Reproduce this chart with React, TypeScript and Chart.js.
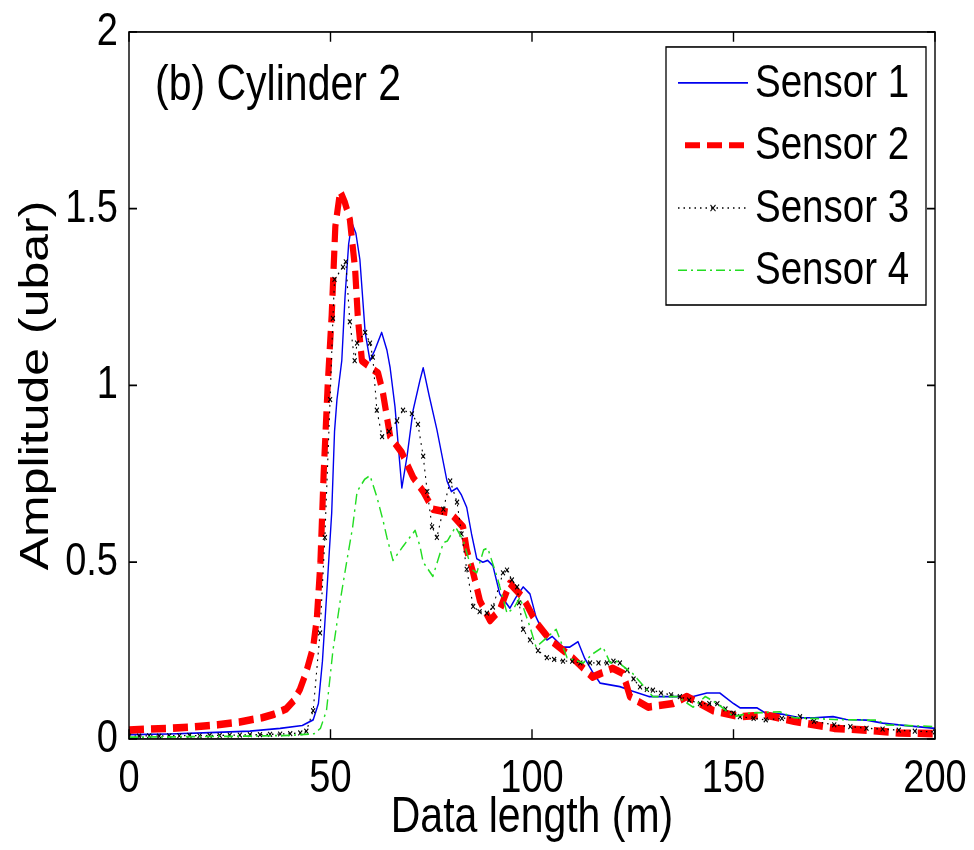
import React, { useEffect, useRef } from "react";
import { Chart, registerables } from "chart.js";

Chart.register(...registerables);

// ---------- data ----------
const xTickValues = [0, 50, 100, 150, 200];
const yTickValues = [0, 0.5, 1, 1.5, 2];
const seriesNames = ["Sensor 1", "Sensor 2", "Sensor 3", "Sensor 4"];
const panelTitle = "(b) Cylinder 2";
const xAxisTitle = "Data length (m)";
const yAxisTitle = "Amplitude (ubar)";

const sensor1: [number, number][] = [
  [0, 0.012], [10, 0.014], [20, 0.018], [30, 0.022], [37.5, 0.03], [43, 0.038], [45.7, 0.054],
  [47, 0.1], [48, 0.22], [49, 0.4], [50.3, 0.64], [51, 0.87], [51.6, 0.96], [52.8, 1.07],
  [53.6, 1.25], [54.5, 1.4], [55.3, 1.46], [56.3, 1.43], [57.3, 1.355], [58.6, 1.15], [59.8, 1.07],
  [61, 1.1], [62.7, 1.15], [64, 1.1], [64.8, 1.05], [66, 0.94], [67.7, 0.71], [69, 0.8],
  [70.5, 0.93], [72.2, 1.015], [73, 1.05], [74.5, 0.97], [76.4, 0.875], [78.9, 0.73], [80, 0.7],
  [81.4, 0.71], [82.5, 0.69], [83.8, 0.655], [85, 0.58], [86.3, 0.51], [87.8, 0.5], [89, 0.505],
  [90.3, 0.49], [92, 0.41], [94.5, 0.37], [96, 0.4], [97.8, 0.43], [99.5, 0.41], [101, 0.345],
  [103.7, 0.28], [105, 0.29], [107.7, 0.26], [109.4, 0.26], [111.4, 0.275], [113, 0.23],
  [115, 0.19], [116.9, 0.158], [121.8, 0.148], [125, 0.135], [129, 0.12], [140, 0.12],
  [143.4, 0.13], [146.6, 0.13], [150, 0.1], [151.6, 0.088], [155.8, 0.088], [158, 0.073],
  [162, 0.07], [166.5, 0.06], [170, 0.06], [174.7, 0.063], [178, 0.055], [183, 0.053],
  [187, 0.045], [191, 0.04], [195.5, 0.035], [200, 0.03],
];

const sensor2: [number, number][] = [
  [0, 0.025], [5, 0.028], [10, 0.03], [16, 0.034], [22, 0.04], [27.5, 0.048], [33, 0.06],
  [36, 0.07], [39, 0.085], [41, 0.11], [42.4, 0.14], [44, 0.19], [45.7, 0.26], [46.6, 0.34],
  [47.5, 0.5], [48.3, 0.75], [49.3, 1.0], [50.3, 1.2], [51.2, 1.45], [52.4, 1.55], [53.5, 1.52],
  [54.8, 1.47], [56.1, 1.33], [56.8, 1.19], [57.8, 1.07], [60, 1.05], [61.8, 1.035], [63, 0.98],
  [64.8, 0.855], [67.7, 0.81], [70.5, 0.74], [73, 0.7], [75.4, 0.65], [79.7, 0.64], [82.9, 0.6],
  [83.8, 0.535], [85.4, 0.47], [87.1, 0.39], [89.6, 0.335], [92, 0.365], [94.5, 0.44],
  [97.8, 0.4], [101, 0.33], [104.5, 0.28], [110, 0.23], [115, 0.175], [120, 0.2], [122.6, 0.185],
  [124.3, 0.12], [128.8, 0.09], [135, 0.1], [138.4, 0.12], [145, 0.08], [151.6, 0.063],
  [158, 0.068], [165, 0.05], [175, 0.03], [183, 0.025], [191, 0.017], [200, 0.015],
];

const sensor3: [number, number][] = [
  [0, 0.008], [2.5, 0.008], [5, 0.009], [7.5, 0.008], [10, 0.009], [12.5, 0.009], [15, 0.01],
  [17.5, 0.009], [20, 0.01], [22.5, 0.01], [25, 0.011], [27.5, 0.011], [30, 0.012], [32.5, 0.012],
  [35, 0.013], [37.5, 0.014], [40, 0.015], [42.5, 0.017], [44, 0.022], [45.7, 0.08], [47.4, 0.3],
  [48.6, 0.57], [49.9, 0.96], [50.6, 1.19], [51, 1.3], [53.1, 1.335], [53.8, 1.35], [54.8, 1.18],
  [56, 1.07], [56.6, 1.12], [58.6, 1.15], [59.8, 1.12], [60.5, 1.08], [61.5, 0.93], [62.8, 0.855],
  [64.5, 0.87], [66.5, 0.9], [68, 0.93], [70.2, 0.92], [71.7, 0.89], [73, 0.8], [74, 0.7],
  [75.2, 0.6], [76.4, 0.57], [78, 0.65], [79.7, 0.73], [81.4, 0.67], [82.5, 0.58], [83.8, 0.48],
  [85.4, 0.375], [87, 0.36], [88.8, 0.356], [90.3, 0.373], [92.8, 0.47], [93.8, 0.478],
  [95, 0.45], [96.3, 0.43], [96.8, 0.385], [97.8, 0.31], [99.5, 0.28], [101.5, 0.25],
  [103.7, 0.23], [105.5, 0.225], [107.7, 0.22], [110, 0.22], [112, 0.215], [114.4, 0.215],
  [116.5, 0.215], [118.6, 0.215], [120.2, 0.22], [121.8, 0.215], [123.6, 0.195], [125.2, 0.17],
  [126.8, 0.147], [128.5, 0.14], [130, 0.138], [132, 0.13], [134.5, 0.125], [136.7, 0.12],
  [139, 0.11], [141.7, 0.1], [144, 0.1], [146, 0.1], [148, 0.085], [150, 0.073], [151.6, 0.063],
  [155, 0.058], [158, 0.054], [162, 0.058], [166.5, 0.063], [170, 0.05], [175, 0.04],
  [179, 0.035], [183, 0.03], [187, 0.028], [191, 0.025], [195, 0.022], [200, 0.02],
];

const sensor4: [number, number][] = [
  [0, 0.005], [10, 0.006], [20, 0.007], [30, 0.008], [40, 0.01], [46, 0.015], [47.5, 0.03],
  [49, 0.08], [50.6, 0.25], [52.4, 0.39], [54, 0.5], [55.5, 0.6], [56.6, 0.7], [58.5, 0.735],
  [59.8, 0.745], [61.5, 0.685], [63, 0.62], [64, 0.57], [65.5, 0.505], [68, 0.545], [71, 0.59],
  [72.2, 0.545], [73, 0.5], [75.4, 0.46], [78, 0.555], [79, 0.56], [81, 0.6], [83, 0.56],
  [85, 0.48], [86.3, 0.47], [88, 0.535], [89, 0.54], [91.3, 0.46], [93.8, 0.356], [95.5, 0.37],
  [97, 0.4], [99.5, 0.317], [101, 0.26], [103, 0.28], [106, 0.31], [108.7, 0.23], [112.7, 0.215],
  [115, 0.24], [117.6, 0.26], [119.4, 0.215], [121, 0.22], [125, 0.185], [130, 0.12], [136, 0.12],
  [140, 0.09], [143, 0.12], [146, 0.1], [150, 0.063], [154, 0.073], [161.5, 0.077], [165, 0.06],
  [170, 0.058], [175, 0.055], [180, 0.054], [185.6, 0.053], [188, 0.04], [195, 0.037],
  [200, 0.035],
];

// ---------- styles / layout ----------
const FONT = '"Liberation Sans", Arial, Helvetica, sans-serif';
const W = 974;
const H = 850;
const SY = 1.22; // the reference is stretched vertically; draw in a squeezed space
const LH = Math.round(H / SY); // logical chart height

const styles = [
  { color: "#0000ee", width: 1.4, dash: [] as number[] },
  { color: "#ff0000", width: 6.2, dash: [15, 7] },
  { color: "#000000", width: 1.1, dash: [1.5, 4] },
  { color: "#22dd22", width: 1.4, dash: [9, 4, 2, 4] },
];

const toXY = (arr: [number, number][]) => arr.map(([x, y]) => ({ x, y }));
const fmt = (v: number | string) => String(Number(v));

function drawCross(ctx: CanvasRenderingContext2D, x: number, y: number, r: number) {
  ctx.beginPath();
  ctx.moveTo(x - r, y - r);
  ctx.lineTo(x + r, y + r);
  ctx.moveTo(x - r, y + r);
  ctx.lineTo(x + r, y - r);
  ctx.stroke();
}

const stretchPlugin = {
  id: "stretch",
  beforeDraw(chart: any) {
    chart.ctx.save();
    chart.ctx.setTransform(1, 0, 0, SY, 0, 0);
  },
  afterDraw(chart: any) {
    chart.ctx.restore();
  },
};

const framePlugin = {
  id: "matlabFrame",
  afterDraw(chart: any) {
    const { ctx, chartArea: a, scales } = chart;
    ctx.save();
    ctx.strokeStyle = "#000";
    ctx.lineWidth = 1.4;
    ctx.setLineDash([]);
    ctx.strokeRect(a.left, a.top, a.right - a.left, a.bottom - a.top);
    const tl = 8;
    ctx.beginPath();
    for (const v of xTickValues) {
      const px = scales.x.getPixelForValue(v);
      ctx.moveTo(px, a.bottom);
      ctx.lineTo(px, a.bottom - tl);
      ctx.moveTo(px, a.top);
      ctx.lineTo(px, a.top + tl);
    }
    for (const v of yTickValues) {
      const py = scales.y.getPixelForValue(v);
      ctx.moveTo(a.left, py);
      ctx.lineTo(a.left + tl, py);
      ctx.moveTo(a.right, py);
      ctx.lineTo(a.right - tl, py);
    }
    ctx.stroke();

    // panel title
    ctx.fillStyle = "#000";
    ctx.font = `41px ${FONT}`;
    ctx.textAlign = "left";
    ctx.textBaseline = "middle";
    ctx.fillText(panelTitle, 155, 70.5);

    // legend
    const lx = 666, ly = 38.5, lw = 260, lh = 211.5;
    ctx.fillStyle = "#fff";
    ctx.fillRect(lx, ly, lw, lh);
    ctx.strokeStyle = "#000";
    ctx.lineWidth = 1.3;
    ctx.strokeRect(lx, ly, lw, lh);
    const rows = [68, 119, 170.5, 221.5];
    seriesNames.forEach((name, i) => {
      const st = styles[i];
      const y = rows[i];
      ctx.save();
      ctx.strokeStyle = st.color;
      ctx.lineWidth = i === 1 ? 5 : st.width;
      ctx.setLineDash(i === 1 ? [15, 7] : st.dash);
      ctx.beginPath();
      ctx.moveTo(i === 1 ? 685 : 678, y);
      ctx.lineTo(748, y);
      ctx.stroke();
      if (i === 2) {
        ctx.setLineDash([]);
        ctx.lineWidth = 1;
        drawCross(ctx, 713, y, 2.5);
      }
      ctx.restore();
      ctx.fillStyle = "#000";
      ctx.font = `38.5px ${FONT}`;
      ctx.textAlign = "left";
      ctx.textBaseline = "middle";
      ctx.fillText(name, 755, y + 1);
    });
    ctx.restore();
  },
};

export default function App() {
  const ref = useRef<HTMLCanvasElement | null>(null);

  useEffect(() => {
    document.body.style.margin = "0";
    const canvas = ref.current;
    if (!canvas) return;
    const datasets = [sensor1, sensor2, sensor3, sensor4].map((d, i) => ({
      label: seriesNames[i],
      data: toXY(d),
      borderColor: styles[i].color,
      backgroundColor: styles[i].color,
      borderWidth: styles[i].width,
      borderDash: styles[i].dash,
      borderCapStyle: "butt" as const,
      borderJoinStyle: "round" as const,
      tension: 0,
      fill: false,
      pointRadius: i === 2 ? 2.8 : 0,
      pointStyle: "crossRot" as const,
      pointBorderWidth: 1,
      pointBorderColor: "#000",
      order: 4 - i,
    }));

    const chart = new Chart(canvas, {
      type: "line",
      data: { datasets },
      options: {
        animation: false,
        responsive: false,
        maintainAspectRatio: false,
        parsing: false as any,
        layout: { padding: { left: 0, top: 26.2, right: 39, bottom: 0 } },
        plugins: { legend: { display: false }, tooltip: { enabled: false } },
        scales: {
          x: {
            type: "linear",
            min: 0,
            max: 200,
            grid: { display: false },
            border: { display: false },
            afterBuildTicks: (s: any) => {
              s.ticks = xTickValues.map((v) => ({ value: v }));
            },
            afterFit: (s: any) => {
              s.height = LH - 605.7;
            },
            ticks: {
              color: "#000",
              padding: 2,
              maxRotation: 0,
              font: { family: FONT, size: 38 },
              callback: (v: any) => fmt(v),
            },
            title: {
              display: true,
              text: xAxisTitle,
              color: "#000",
              font: { family: FONT, size: 41 },
              padding: { top: 0, bottom: 2 },
            },
          },
          y: {
            type: "linear",
            min: 0,
            max: 2,
            grid: { display: false },
            border: { display: false },
            afterBuildTicks: (s: any) => {
              s.ticks = yTickValues.map((v) => ({ value: v }));
            },
            afterFit: (s: any) => {
              s.width = 129;
            },
            ticks: {
              color: "#000",
              padding: 3,
              font: { family: FONT, size: 38 },
              callback: (v: any) => fmt(v),
            },
            title: {
              display: true,
              text: yAxisTitle,
              color: "#000",
              font: { family: FONT, size: 41 },
              padding: { top: 12, bottom: 0 },
            },
          },
        },
      },
      // frame first so its afterDraw runs before the stretch is undone
      plugins: [framePlugin, stretchPlugin],
    });
    canvas.height = H;
    canvas.style.height = `${H}px`;
    canvas.style.width = `${W}px`;
    chart.draw();
    return () => chart.destroy();
  }, []);

  return (
    <div style={{ width: W, height: H, background: "#fff" }}>
      <canvas ref={ref} width={W} height={LH} style={{ display: "block" }} />
    </div>
  );
}
